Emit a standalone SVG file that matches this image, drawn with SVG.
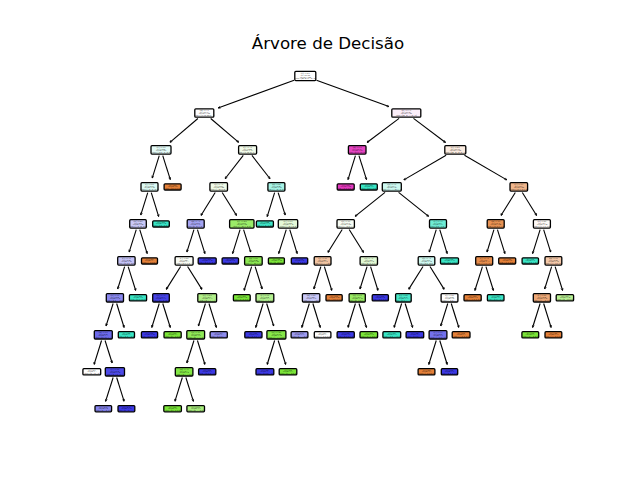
<svg xmlns="http://www.w3.org/2000/svg" width="640" height="480" viewBox="0 0 640 480">
<defs>
  <marker id="ah" viewBox="0 0 4 4" refX="3.8" refY="2" markerWidth="3" markerHeight="3" markerUnits="userSpaceOnUse" orient="auto">
    <path d="M0.8,0.6 L3.8,2 L0.8,3.4" fill="none" stroke="#000" stroke-width="0.9"/>
  </marker>
  <style>
    .bg { fill: #ffffff; }
    .title { font-family: "DejaVu Sans", sans-serif; font-size: 16.67px; fill: #000; text-anchor: middle; }
    .edges path { fill: none; stroke: #000; stroke-width: 1.1; marker-end: url(#ah); }
    .node rect { stroke: #000; stroke-width: 1.3; }
    .t { font-family: "DejaVu Sans", sans-serif; font-size: 1.5px; fill: #000; text-anchor: middle; }
  </style>
</defs>
<rect class="bg" x="0" y="0" width="640" height="480"/>
<text class="title" x="328" y="49.3">Árvore de Decisão</text>

<g id="edges" class="edges">
  <path d="M294.1 80.2 L218.1 108.0"/>
  <path d="M316.5 80.2 L388.9 106.6"/>
  <path d="M197.9 118.5 L169.9 142.3"/>
  <path d="M210.7 118.5 L238.7 142.3"/>
  <path d="M399.1 118.4 L367.0 142.5"/>
  <path d="M413.5 118.4 L445.5 142.5"/>
  <path d="M159.24 155.57 L152.24 178.08"/>
  <path d="M162.76 155.57 L170.32 179.58"/>
  <path d="M243.27 155.45 L225.06 178.75"/>
  <path d="M251.93 155.45 L270.04 178.75"/>
  <path d="M355.44 155.57 L347.98 179.58"/>
  <path d="M358.96 155.57 L366.52 179.58"/>
  <path d="M446.12 155.25 L403.83 179.89"/>
  <path d="M464.48 155.25 L506.77 179.89"/>
  <path d="M147.74 192.57 L140.74 215.08"/>
  <path d="M151.26 192.57 L158.72 216.58"/>
  <path d="M215.21 192.49 L200.94 215.51"/>
  <path d="M222.19 192.49 L236.56 215.51"/>
  <path d="M274.64 192.57 L267.18 216.58"/>
  <path d="M278.16 192.57 L285.26 215.08"/>
  <path d="M385.02 192.34 L355.06 216.4"/>
  <path d="M398.58 192.34 L428.64 216.4"/>
  <path d="M515.31 192.49 L500.94 215.51"/>
  <path d="M522.29 192.49 L536.66 215.51"/>
  <path d="M136.24 229.57 L129.14 252.08"/>
  <path d="M139.76 229.57 L147.22 253.58"/>
  <path d="M193.94 229.57 L186.84 252.08"/>
  <path d="M197.46 229.57 L204.92 253.58"/>
  <path d="M240.04 229.57 L232.58 253.58"/>
  <path d="M243.56 229.57 L250.66 252.08"/>
  <path d="M286.24 229.57 L278.68 253.58"/>
  <path d="M289.76 229.57 L297.22 253.58"/>
  <path d="M342.21 229.49 L327.84 252.51"/>
  <path d="M349.19 229.49 L363.56 252.51"/>
  <path d="M436.24 229.57 L429.24 252.08"/>
  <path d="M439.76 229.57 L447.22 253.58"/>
  <path d="M493.94 229.57 L486.94 252.08"/>
  <path d="M497.46 229.57 L504.92 253.58"/>
  <path d="M540.14 229.57 L532.58 253.58"/>
  <path d="M543.66 229.57 L550.66 252.08"/>
  <path d="M124.64 266.57 L117.64 288.98"/>
  <path d="M128.16 266.57 L135.72 290.48"/>
  <path d="M180.61 266.49 L166.24 289.41"/>
  <path d="M187.59 266.49 L201.96 289.41"/>
  <path d="M251.64 266.57 L244.08 290.48"/>
  <path d="M255.16 266.57 L262.16 288.98"/>
  <path d="M320.84 266.57 L313.84 288.98"/>
  <path d="M324.36 266.57 L331.82 290.48"/>
  <path d="M367.04 266.57 L359.94 288.98"/>
  <path d="M370.56 266.57 L378.02 290.48"/>
  <path d="M423.01 266.49 L408.64 289.41"/>
  <path d="M429.99 266.49 L444.26 289.41"/>
  <path d="M482.44 266.57 L474.88 290.48"/>
  <path d="M485.96 266.57 L493.42 290.48"/>
  <path d="M551.64 266.57 L544.64 288.98"/>
  <path d="M555.16 266.57 L562.62 290.48"/>
  <path d="M113.14 303.47 L106.04 325.98"/>
  <path d="M116.66 303.47 L124.12 327.48"/>
  <path d="M159.24 303.47 L151.78 327.48"/>
  <path d="M162.76 303.47 L170.32 327.48"/>
  <path d="M205.44 303.47 L198.44 325.98"/>
  <path d="M208.96 303.47 L216.42 327.48"/>
  <path d="M263.14 303.47 L255.68 327.48"/>
  <path d="M266.66 303.47 L273.66 325.98"/>
  <path d="M309.34 303.47 L301.78 327.48"/>
  <path d="M312.86 303.47 L320.32 327.48"/>
  <path d="M355.44 303.47 L347.98 327.48"/>
  <path d="M358.96 303.47 L366.52 327.48"/>
  <path d="M401.64 303.47 L394.08 327.48"/>
  <path d="M405.16 303.47 L412.62 327.48"/>
  <path d="M447.74 303.47 L440.74 325.98"/>
  <path d="M451.26 303.47 L458.82 327.48"/>
  <path d="M540.14 303.47 L532.58 327.48"/>
  <path d="M543.66 303.47 L551.12 327.48"/>
  <path d="M101.54 340.47 L94.08 364.48"/>
  <path d="M105.06 340.47 L112.16 362.98"/>
  <path d="M193.94 340.47 L186.84 362.98"/>
  <path d="M197.46 340.47 L204.92 364.48"/>
  <path d="M274.64 340.47 L267.18 364.48"/>
  <path d="M278.16 340.47 L285.72 364.48"/>
  <path d="M436.24 340.47 L428.78 364.48"/>
  <path d="M439.76 340.47 L447.22 364.48"/>
  <path d="M113.14 377.47 L105.58 401.38"/>
  <path d="M116.66 377.47 L124.12 401.38"/>
  <path d="M182.34 377.47 L174.88 401.38"/>
  <path d="M185.86 377.47 L193.42 401.38"/>
</g>

<!-- depth 0 -->
<g id="n0" class="node" transform="translate(305.3,76)"><rect x="-10.5" y="-4.6" width="21" height="9.2" rx="1" fill="#ffffff"/><text class="t"><tspan x="0" y="-2.1">x[3] &lt;= 0.5</tspan><tspan x="0" y="-0.3">gini = 0.799</tspan><tspan x="0" y="1.5">samples = 400</tspan><tspan x="0" y="3.3">value = [80, 84, 82, 78, 76]</tspan></text></g>
<!-- depth 1 -->
<g id="n1" class="node" transform="translate(204.3,113)"><rect x="-9.5" y="-4.2" width="19" height="8.4" rx="1" fill="#fefeff"/><text class="t"><tspan x="0" y="-2">x[0] &lt;= 1.5</tspan><tspan x="0" y="-0.3">gini = 0.742</tspan><tspan x="0" y="1.4">samples = 196</tspan><tspan x="0" y="3.1">value = [14, 58, 60, 62, 2]</tspan></text></g>
<g id="n2" class="node" transform="translate(406.3,113)"><rect x="-14.5" y="-4.2" width="29" height="8.4" rx="1" fill="#fbeefa"/><text class="t"><tspan x="0" y="-2">x[4] &lt;= 12.5</tspan><tspan x="0" y="-0.3">gini = 0.781</tspan><tspan x="0" y="1.4">samples = 204</tspan><tspan x="0" y="3.1">value = [66, 26, 22, 16, 74]</tspan></text></g>
<!-- depth 2 -->
<g id="n3" class="node" transform="translate(161,149.9)"><rect x="-10" y="-4.2" width="20" height="8.4" rx="1" fill="#e4fbf7"/><text class="t"><tspan x="0" y="-2">x[1] &lt;= 3.5</tspan><tspan x="0" y="-0.3">gini = 0.66</tspan><tspan x="0" y="1.4">samples = 64</tspan><tspan x="0" y="3.1">value = [10, 8, 26, 20, 0]</tspan></text></g>
<g id="n4" class="node" transform="translate(247.6,149.9)"><rect x="-9" y="-4.2" width="18" height="8.4" rx="1" fill="#f2fbea"/><text class="t"><tspan x="0" y="-2">x[2] &lt;= 2.5</tspan><tspan x="0" y="-0.3">gini = 0.68</tspan><tspan x="0" y="1.4">samples = 132</tspan><tspan x="0" y="3.1">value = [4, 50, 34, 42, 2]</tspan></text></g>
<g id="n5" class="node" transform="translate(357.2,149.9)"><rect x="-8.8" y="-4.2" width="17.6" height="8.4" rx="1" fill="#e645c3"/><text class="t"><tspan x="0" y="-2">x[0] &lt;= 4.5</tspan><tspan x="0" y="-0.3">gini = 0.142</tspan><tspan x="0" y="1.4">samples = 54</tspan><tspan x="0" y="3.1">value = [0, 0, 4, 0, 50]</tspan></text></g>
<g id="n6" class="node" transform="translate(455.3,149.9)"><rect x="-10.5" y="-4.2" width="21" height="8.4" rx="1" fill="#fbece1"/><text class="t"><tspan x="0" y="-2">x[1] &lt;= 0.5</tspan><tspan x="0" y="-0.3">gini = 0.754</tspan><tspan x="0" y="1.4">samples = 150</tspan><tspan x="0" y="3.1">value = [66, 26, 18, 16, 24]</tspan></text></g>
<!-- depth 3 -->
<g id="n7" class="node" transform="translate(149.5,186.9)"><rect x="-8.5" y="-4.2" width="17" height="8.4" rx="1" fill="#dcfaf4"/><text class="t"><tspan x="0" y="-2">x[2] &lt;= 6.5</tspan><tspan x="0" y="-0.3">gini = 0.591</tspan><tspan x="0" y="1.4">samples = 56</tspan><tspan x="0" y="3.1">value = [2, 8, 26, 20, 0]</tspan></text></g>
<g id="n8" class="node" transform="translate(172.6,186.9)"><rect x="-8.5" y="-3.1" width="17" height="6.2" rx="1" fill="#e58139"/><text class="t"><tspan x="0" y="-1.15">gini = 0.0</tspan><tspan x="0" y="0.55">samples = 8</tspan><tspan x="0" y="2.25">value = [8, 0, 0, 0, 0]</tspan></text></g>
<g id="n9" class="node" transform="translate(218.7,186.9)"><rect x="-8.8" y="-4.2" width="17.6" height="8.4" rx="1" fill="#f0fbe8"/><text class="t"><tspan x="0" y="-2">x[1] &lt;= 2.5</tspan><tspan x="0" y="-0.3">gini = 0.63</tspan><tspan x="0" y="1.4">samples = 88</tspan><tspan x="0" y="3.1">value = [2, 40, 8, 36, 2]</tspan></text></g>
<g id="n10" class="node" transform="translate(276.4,186.9)"><rect x="-8.5" y="-4.2" width="17" height="8.4" rx="1" fill="#a6f3e5"/><text class="t"><tspan x="0" y="-2">x[0] &lt;= 0.5</tspan><tspan x="0" y="-0.3">gini = 0.56</tspan><tspan x="0" y="1.4">samples = 44</tspan><tspan x="0" y="3.1">value = [2, 10, 26, 6, 0]</tspan></text></g>
<g id="n11" class="node" transform="translate(345.7,186.9)"><rect x="-8.5" y="-3.1" width="17" height="6.2" rx="1" fill="#e539c0"/><text class="t"><tspan x="0" y="-1.15">gini = 0.0</tspan><tspan x="0" y="0.55">samples = 50</tspan><tspan x="0" y="2.25">value = [0, 0, 0, 0, 50]</tspan></text></g>
<g id="n12" class="node" transform="translate(368.8,186.9)"><rect x="-8.5" y="-3.1" width="17" height="6.2" rx="1" fill="#39e5c5"/><text class="t"><tspan x="0" y="-1.15">gini = 0.0</tspan><tspan x="0" y="0.55">samples = 4</tspan><tspan x="0" y="2.25">value = [0, 0, 4, 0, 0]</tspan></text></g>
<g id="n13" class="node" transform="translate(391.8,186.9)"><rect x="-9.5" y="-4.2" width="19" height="8.4" rx="1" fill="#cdf8f0"/><text class="t"><tspan x="0" y="-2">x[3] &lt;= 1.5</tspan><tspan x="0" y="-0.3">gini = 0.72</tspan><tspan x="0" y="1.4">samples = 82</tspan><tspan x="0" y="3.1">value = [12, 22, 30, 12, 6]</tspan></text></g>
<g id="n14" class="node" transform="translate(518.8,186.9)"><rect x="-8.8" y="-4.2" width="17.6" height="8.4" rx="1" fill="#f0b68c"/><text class="t"><tspan x="0" y="-2">x[2] &lt;= 4.5</tspan><tspan x="0" y="-0.3">gini = 0.52</tspan><tspan x="0" y="1.4">samples = 68</tspan><tspan x="0" y="3.1">value = [44, 4, 8, 4, 8]</tspan></text></g>
<!-- depth 4 -->
<g id="n15" class="node" transform="translate(138,223.9)"><rect x="-8.3" y="-4.2" width="16.6" height="8.4" rx="1" fill="#cac9f8"/><text class="t"><tspan x="0" y="-2">x[4] &lt;= 8.5</tspan><tspan x="0" y="-0.3">gini = 0.6</tspan><tspan x="0" y="1.4">samples = 40</tspan><tspan x="0" y="3.1">value = [2, 8, 10, 20, 0]</tspan></text></g>
<g id="n16" class="node" transform="translate(161,223.9)"><rect x="-8.3" y="-3.1" width="16.6" height="6.2" rx="1" fill="#39e5c5"/><text class="t"><tspan x="0" y="-1.15">gini = 0.0</tspan><tspan x="0" y="0.55">samples = 16</tspan><tspan x="0" y="2.25">value = [0, 0, 16, 0, 0]</tspan></text></g>
<g id="n17" class="node" transform="translate(195.7,223.9)"><rect x="-8.5" y="-4.2" width="17" height="8.4" rx="1" fill="#a5a4f3"/><text class="t"><tspan x="0" y="-2">x[0] &lt;= 2.5</tspan><tspan x="0" y="-0.3">gini = 0.54</tspan><tspan x="0" y="1.4">samples = 42</tspan><tspan x="0" y="3.1">value = [0, 10, 4, 26, 2]</tspan></text></g>
<g id="n18" class="node" transform="translate(241.8,223.9)"><rect x="-12.2" y="-4.2" width="24.4" height="8.4" rx="1" fill="#9bec69"/><text class="t"><tspan x="0" y="-2">x[3] &lt;= 10.5</tspan><tspan x="0" y="-0.3">gini = 0.44</tspan><tspan x="0" y="1.4">samples = 46</tspan><tspan x="0" y="3.1">value = [2, 30, 4, 10, 0]</tspan></text></g>
<g id="n19" class="node" transform="translate(264.9,223.9)"><rect x="-8.5" y="-3.1" width="17" height="6.2" rx="1" fill="#3fe6c7"/><text class="t"><tspan x="0" y="-1.15">gini = 0.08</tspan><tspan x="0" y="0.55">samples = 24</tspan><tspan x="0" y="2.25">value = [1, 0, 23, 0, 0]</tspan></text></g>
<g id="n20" class="node" transform="translate(288,223.9)"><rect x="-9.7" y="-4.2" width="19.4" height="8.4" rx="1" fill="#e5f9d8"/><text class="t"><tspan x="0" y="-2">x[1] &lt;= 5.5</tspan><tspan x="0" y="-0.3">gini = 0.64</tspan><tspan x="0" y="1.4">samples = 20</tspan><tspan x="0" y="3.1">value = [1, 10, 3, 6, 0]</tspan></text></g>
<g id="n21" class="node" transform="translate(345.7,223.9)"><rect x="-8.7" y="-4.2" width="17.4" height="8.4" rx="1" fill="#f8fdf4"/><text class="t"><tspan x="0" y="-2">x[4] &lt;= 3.5</tspan><tspan x="0" y="-0.3">gini = 0.74</tspan><tspan x="0" y="1.4">samples = 50</tspan><tspan x="0" y="3.1">value = [12, 16, 6, 12, 4]</tspan></text></g>
<g id="n22" class="node" transform="translate(438,223.9)"><rect x="-8.5" y="-4.2" width="17" height="8.4" rx="1" fill="#6eecd5"/><text class="t"><tspan x="0" y="-2">x[2] &lt;= 1.5</tspan><tspan x="0" y="-0.3">gini = 0.42</tspan><tspan x="0" y="1.4">samples = 32</tspan><tspan x="0" y="3.1">value = [0, 6, 24, 0, 2]</tspan></text></g>
<g id="n23" class="node" transform="translate(495.7,223.9)"><rect x="-8.5" y="-4.2" width="17" height="8.4" rx="1" fill="#e89253"/><text class="t"><tspan x="0" y="-2">x[0] &lt;= 3.5</tspan><tspan x="0" y="-0.3">gini = 0.24</tspan><tspan x="0" y="1.4">samples = 38</tspan><tspan x="0" y="3.1">value = [33, 0, 4, 1, 0]</tspan></text></g>
<g id="n24" class="node" transform="translate(541.9,223.9)"><rect x="-8.5" y="-4.2" width="17" height="8.4" rx="1" fill="#fefaf7"/><text class="t"><tspan x="0" y="-2">x[3] &lt;= 6.5</tspan><tspan x="0" y="-0.3">gini = 0.7</tspan><tspan x="0" y="1.4">samples = 30</tspan><tspan x="0" y="3.1">value = [11, 4, 4, 3, 8]</tspan></text></g>
<!-- depth 5 -->
<g id="n25" class="node" transform="translate(126.4,260.9)"><rect x="-8.7" y="-4.2" width="17.4" height="8.4" rx="1" fill="#c4c3f7"/><text class="t"><tspan x="0" y="-2">x[1] &lt;= 7.5</tspan><tspan x="0" y="-0.3">gini = 0.58</tspan><tspan x="0" y="1.4">samples = 34</tspan><tspan x="0" y="3.1">value = [0, 8, 8, 18, 0]</tspan></text></g>
<g id="n26" class="node" transform="translate(149.5,260.9)"><rect x="-8" y="-3.1" width="16" height="6.2" rx="1" fill="#e58139"/><text class="t"><tspan x="0" y="-1.15">gini = 0.0</tspan><tspan x="0" y="0.55">samples = 2</tspan><tspan x="0" y="2.25">value = [2, 0, 0, 0, 0]</tspan></text></g>
<g id="n27" class="node" transform="translate(184.1,260.9)"><rect x="-9" y="-4.2" width="18" height="8.4" rx="1" fill="#fafcf6"/><text class="t"><tspan x="0" y="-2">x[2] &lt;= 0.5</tspan><tspan x="0" y="-0.3">gini = 0.62</tspan><tspan x="0" y="1.4">samples = 22</tspan><tspan x="0" y="3.1">value = [0, 9, 4, 8, 1]</tspan></text></g>
<g id="n28" class="node" transform="translate(207.2,260.9)"><rect x="-9" y="-3.1" width="18" height="6.2" rx="1" fill="#3c39e5"/><text class="t"><tspan x="0" y="-1.15">gini = 0.0</tspan><tspan x="0" y="0.55">samples = 20</tspan><tspan x="0" y="2.25">value = [0, 0, 0, 20, 0]</tspan></text></g>
<g id="n29" class="node" transform="translate(230.3,260.9)"><rect x="-8.2" y="-3.1" width="16.4" height="6.2" rx="1" fill="#3c39e5"/><text class="t"><tspan x="0" y="-1.15">gini = 0.0</tspan><tspan x="0" y="0.55">samples = 6</tspan><tspan x="0" y="2.25">value = [0, 0, 0, 6, 0]</tspan></text></g>
<g id="n30" class="node" transform="translate(253.4,260.9)"><rect x="-8.8" y="-4.2" width="17.6" height="8.4" rx="1" fill="#8ce853"/><text class="t"><tspan x="0" y="-2">x[0] &lt;= 6.5</tspan><tspan x="0" y="-0.3">gini = 0.36</tspan><tspan x="0" y="1.4">samples = 40</tspan><tspan x="0" y="3.1">value = [2, 30, 4, 4, 0]</tspan></text></g>
<g id="n31" class="node" transform="translate(276.4,260.9)"><rect x="-8" y="-3.1" width="16" height="6.2" rx="1" fill="#7be539"/><text class="t"><tspan x="0" y="-1.15">gini = 0.0</tspan><tspan x="0" y="0.55">samples = 10</tspan><tspan x="0" y="2.25">value = [0, 10, 0, 0, 0]</tspan></text></g>
<g id="n32" class="node" transform="translate(299.5,260.9)"><rect x="-8.2" y="-3.1" width="16.4" height="6.2" rx="1" fill="#3c39e5"/><text class="t"><tspan x="0" y="-1.15">gini = 0.0</tspan><tspan x="0" y="0.55">samples = 6</tspan><tspan x="0" y="2.25">value = [0, 0, 0, 6, 0]</tspan></text></g>
<g id="n33" class="node" transform="translate(322.6,260.9)"><rect x="-8.4" y="-4.2" width="16.8" height="8.4" rx="1" fill="#f3c5a3"/><text class="t"><tspan x="0" y="-2">x[1] &lt;= 4.5</tspan><tspan x="0" y="-0.3">gini = 0.62</tspan><tspan x="0" y="1.4">samples = 24</tspan><tspan x="0" y="3.1">value = [12, 2, 2, 8, 0]</tspan></text></g>
<g id="n34" class="node" transform="translate(368.8,260.9)"><rect x="-8.7" y="-4.2" width="17.4" height="8.4" rx="1" fill="#e2f9d4"/><text class="t"><tspan x="0" y="-2">x[3] &lt;= 2.5</tspan><tspan x="0" y="-0.3">gini = 0.6</tspan><tspan x="0" y="1.4">samples = 26</tspan><tspan x="0" y="3.1">value = [0, 14, 4, 4, 4]</tspan></text></g>
<g id="n35" class="node" transform="translate(426.5,260.9)"><rect x="-8.3" y="-4.2" width="16.6" height="8.4" rx="1" fill="#d0f9f1"/><text class="t"><tspan x="0" y="-2">x[4] &lt;= 2.5</tspan><tspan x="0" y="-0.3">gini = 0.62</tspan><tspan x="0" y="1.4">samples = 18</tspan><tspan x="0" y="3.1">value = [0, 6, 10, 0, 2]</tspan></text></g>
<g id="n36" class="node" transform="translate(449.5,260.9)"><rect x="-9" y="-3.1" width="18" height="6.2" rx="1" fill="#39e5c5"/><text class="t"><tspan x="0" y="-1.15">gini = 0.0</tspan><tspan x="0" y="0.55">samples = 14</tspan><tspan x="0" y="2.25">value = [0, 0, 14, 0, 0]</tspan></text></g>
<g id="n37" class="node" transform="translate(484.2,260.9)"><rect x="-8.5" y="-4.2" width="17" height="8.4" rx="1" fill="#e88e4d"/><text class="t"><tspan x="0" y="-2">x[2] &lt;= 7.5</tspan><tspan x="0" y="-0.3">gini = 0.2</tspan><tspan x="0" y="1.4">samples = 27</tspan><tspan x="0" y="3.1">value = [24, 0, 3, 0, 0]</tspan></text></g>
<g id="n38" class="node" transform="translate(507.2,260.9)"><rect x="-8.5" y="-3.1" width="17" height="6.2" rx="1" fill="#e58139"/><text class="t"><tspan x="0" y="-1.15">gini = 0.0</tspan><tspan x="0" y="0.55">samples = 9</tspan><tspan x="0" y="2.25">value = [9, 0, 0, 0, 0]</tspan></text></g>
<g id="n39" class="node" transform="translate(530.3,260.9)"><rect x="-8.2" y="-3.1" width="16.4" height="6.2" rx="1" fill="#39e5c5"/><text class="t"><tspan x="0" y="-1.15">gini = 0.0</tspan><tspan x="0" y="0.55">samples = 4</tspan><tspan x="0" y="2.25">value = [0, 0, 4, 0, 0]</tspan></text></g>
<g id="n40" class="node" transform="translate(553.4,260.9)"><rect x="-8.4" y="-4.2" width="16.8" height="8.4" rx="1" fill="#f4c9aa"/><text class="t"><tspan x="0" y="-2">x[0] &lt;= 5.5</tspan><tspan x="0" y="-0.3">gini = 0.58</tspan><tspan x="0" y="1.4">samples = 26</tspan><tspan x="0" y="3.1">value = [11, 4, 0, 3, 8]</tspan></text></g>
<!-- depth 6 -->
<g id="n41" class="node" transform="translate(114.9,297.8)"><rect x="-8.6" y="-4.2" width="17.2" height="8.4" rx="1" fill="#8a88ef"/><text class="t"><tspan x="0" y="-2">x[3] &lt;= 4.5</tspan><tspan x="0" y="-0.3">gini = 0.46</tspan><tspan x="0" y="1.4">samples = 26</tspan><tspan x="0" y="3.1">value = [0, 6, 2, 18, 0]</tspan></text></g>
<g id="n42" class="node" transform="translate(138,297.8)"><rect x="-8.6" y="-3.1" width="17.2" height="6.2" rx="1" fill="#39e5c5"/><text class="t"><tspan x="0" y="-1.15">gini = 0.0</tspan><tspan x="0" y="0.55">samples = 6</tspan><tspan x="0" y="2.25">value = [0, 0, 6, 0, 0]</tspan></text></g>
<g id="n43" class="node" transform="translate(161,297.8)"><rect x="-8.3" y="-4.2" width="16.6" height="8.4" rx="1" fill="#4643e6"/><text class="t"><tspan x="0" y="-2">x[4] &lt;= 1.5</tspan><tspan x="0" y="-0.3">gini = 0.17</tspan><tspan x="0" y="1.4">samples = 11</tspan><tspan x="0" y="3.1">value = [0, 1, 0, 10, 0]</tspan></text></g>
<g id="n44" class="node" transform="translate(207.2,297.8)"><rect x="-9.4" y="-4.2" width="18.8" height="8.4" rx="1" fill="#b0ee88"/><text class="t"><tspan x="0" y="-2">x[1] &lt;= 6.5</tspan><tspan x="0" y="-0.3">gini = 0.52</tspan><tspan x="0" y="1.4">samples = 11</tspan><tspan x="0" y="3.1">value = [0, 7, 1, 2, 1]</tspan></text></g>
<g id="n45" class="node" transform="translate(241.8,297.8)"><rect x="-8.4" y="-3.1" width="16.8" height="6.2" rx="1" fill="#7be539"/><text class="t"><tspan x="0" y="-1.15">gini = 0.0</tspan><tspan x="0" y="0.55">samples = 18</tspan><tspan x="0" y="2.25">value = [0, 18, 0, 0, 0]</tspan></text></g>
<g id="n46" class="node" transform="translate(264.9,297.8)"><rect x="-8.9" y="-4.2" width="17.8" height="8.4" rx="1" fill="#b4f090"/><text class="t"><tspan x="0" y="-2">x[2] &lt;= 3.5</tspan><tspan x="0" y="-0.3">gini = 0.56</tspan><tspan x="0" y="1.4">samples = 22</tspan><tspan x="0" y="3.1">value = [2, 12, 4, 4, 0]</tspan></text></g>
<g id="n47" class="node" transform="translate(311.1,297.8)"><rect x="-8.7" y="-4.2" width="17.4" height="8.4" rx="1" fill="#c9c8f8"/><text class="t"><tspan x="0" y="-2">x[0] &lt;= 8.5</tspan><tspan x="0" y="-0.3">gini = 0.61</tspan><tspan x="0" y="1.4">samples = 14</tspan><tspan x="0" y="3.1">value = [2, 2, 2, 8, 0]</tspan></text></g>
<g id="n48" class="node" transform="translate(334.1,297.8)"><rect x="-8.1" y="-3.1" width="16.2" height="6.2" rx="1" fill="#e58139"/><text class="t"><tspan x="0" y="-1.15">gini = 0.0</tspan><tspan x="0" y="0.55">samples = 10</tspan><tspan x="0" y="2.25">value = [10, 0, 0, 0, 0]</tspan></text></g>
<g id="n49" class="node" transform="translate(357.2,297.8)"><rect x="-8.1" y="-4.2" width="16.2" height="8.4" rx="1" fill="#98ea64"/><text class="t"><tspan x="0" y="-2">x[4] &lt;= 5.5</tspan><tspan x="0" y="-0.3">gini = 0.42</tspan><tspan x="0" y="1.4">samples = 20</tspan><tspan x="0" y="3.1">value = [0, 14, 0, 4, 2]</tspan></text></g>
<g id="n50" class="node" transform="translate(380.3,297.8)"><rect x="-8.1" y="-3.1" width="16.2" height="6.2" rx="1" fill="#3c39e5"/><text class="t"><tspan x="0" y="-1.15">gini = 0.0</tspan><tspan x="0" y="0.55">samples = 6</tspan><tspan x="0" y="2.25">value = [0, 0, 0, 6, 0]</tspan></text></g>
<g id="n51" class="node" transform="translate(403.4,297.8)"><rect x="-7.8" y="-4.2" width="15.6" height="8.4" rx="1" fill="#47e7c9"/><text class="t"><tspan x="0" y="-2">x[3] &lt;= 8.5</tspan><tspan x="0" y="-0.3">gini = 0.15</tspan><tspan x="0" y="1.4">samples = 12</tspan><tspan x="0" y="3.1">value = [0, 0, 11, 1, 0]</tspan></text></g>
<g id="n52" class="node" transform="translate(449.5,297.8)"><rect x="-8.4" y="-4.2" width="16.8" height="8.4" rx="1" fill="#ffffff"/><text class="t"><tspan x="0" y="-2">x[1] &lt;= 8.5</tspan><tspan x="0" y="-0.3">gini = 0.66</tspan><tspan x="0" y="1.4">samples = 6</tspan><tspan x="0" y="3.1">value = [2, 0, 0, 2, 2]</tspan></text></g>
<g id="n53" class="node" transform="translate(472.6,297.8)"><rect x="-8.6" y="-3.1" width="17.2" height="6.2" rx="1" fill="#e58139"/><text class="t"><tspan x="0" y="-1.15">gini = 0.0</tspan><tspan x="0" y="0.55">samples = 24</tspan><tspan x="0" y="2.25">value = [24, 0, 0, 0, 0]</tspan></text></g>
<g id="n54" class="node" transform="translate(495.7,297.8)"><rect x="-8.3" y="-3.1" width="16.6" height="6.2" rx="1" fill="#39e5c5"/><text class="t"><tspan x="0" y="-1.15">gini = 0.0</tspan><tspan x="0" y="0.55">samples = 3</tspan><tspan x="0" y="2.25">value = [0, 0, 3, 0, 0]</tspan></text></g>
<g id="n55" class="node" transform="translate(541.9,297.8)"><rect x="-8.6" y="-4.2" width="17.2" height="8.4" rx="1" fill="#eda877"/><text class="t"><tspan x="0" y="-2">x[2] &lt;= 9.5</tspan><tspan x="0" y="-0.3">gini = 0.48</tspan><tspan x="0" y="1.4">samples = 16</tspan><tspan x="0" y="3.1">value = [11, 2, 0, 3, 0]</tspan></text></g>
<g id="n56" class="node" transform="translate(564.9,297.8)"><rect x="-8.7" y="-3.1" width="17.4" height="6.2" rx="1" fill="#b8f094"/><text class="t"><tspan x="0" y="-1.15">gini = 0.5</tspan><tspan x="0" y="0.55">samples = 10</tspan><tspan x="0" y="2.25">value = [0, 2, 0, 0, 8]</tspan></text></g>
<!-- depth 7 -->
<g id="n57" class="node" transform="translate(103.3,334.8)"><rect x="-9" y="-4.2" width="18" height="8.4" rx="1" fill="#6c6aeb"/><text class="t"><tspan x="0" y="-2">x[0] &lt;= 9.5</tspan><tspan x="0" y="-0.3">gini = 0.38</tspan><tspan x="0" y="1.4">samples = 22</tspan><tspan x="0" y="3.1">value = [0, 4, 0, 17, 1]</tspan></text></g>
<g id="n58" class="node" transform="translate(126.4,334.8)"><rect x="-8.1" y="-3.1" width="16.2" height="6.2" rx="1" fill="#39e5c5"/><text class="t"><tspan x="0" y="-1.15">gini = 0.0</tspan><tspan x="0" y="0.55">samples = 2</tspan><tspan x="0" y="2.25">value = [0, 0, 2, 0, 0]</tspan></text></g>
<g id="n59" class="node" transform="translate(149.5,334.8)"><rect x="-8.1" y="-3.1" width="16.2" height="6.2" rx="1" fill="#3c39e5"/><text class="t"><tspan x="0" y="-1.15">gini = 0.0</tspan><tspan x="0" y="0.55">samples = 10</tspan><tspan x="0" y="2.25">value = [0, 0, 0, 10, 0]</tspan></text></g>
<g id="n60" class="node" transform="translate(172.6,334.8)"><rect x="-8.6" y="-3.1" width="17.2" height="6.2" rx="1" fill="#7be539"/><text class="t"><tspan x="0" y="-1.15">gini = 0.0</tspan><tspan x="0" y="0.55">samples = 1</tspan><tspan x="0" y="2.25">value = [0, 1, 0, 0, 0]</tspan></text></g>
<g id="n61" class="node" transform="translate(195.7,334.8)"><rect x="-8.9" y="-4.2" width="17.8" height="8.4" rx="1" fill="#8fe957"/><text class="t"><tspan x="0" y="-2">x[3] &lt;= 3.5</tspan><tspan x="0" y="-0.3">gini = 0.35</tspan><tspan x="0" y="1.4">samples = 9</tspan><tspan x="0" y="3.1">value = [0, 7, 1, 1, 0]</tspan></text></g>
<g id="n62" class="node" transform="translate(218.7,334.8)"><rect x="-8.6" y="-3.1" width="17.2" height="6.2" rx="1" fill="#908eef"/><text class="t"><tspan x="0" y="-1.15">gini = 0.5</tspan><tspan x="0" y="0.55">samples = 2</tspan><tspan x="0" y="2.25">value = [0, 0, 0, 1, 1]</tspan></text></g>
<g id="n63" class="node" transform="translate(253.4,334.8)"><rect x="-8.6" y="-3.1" width="17.2" height="6.2" rx="1" fill="#3c39e5"/><text class="t"><tspan x="0" y="-1.15">gini = 0.0</tspan><tspan x="0" y="0.55">samples = 4</tspan><tspan x="0" y="2.25">value = [0, 0, 0, 4, 0]</tspan></text></g>
<g id="n64" class="node" transform="translate(276.4,334.8)"><rect x="-9.5" y="-4.2" width="19" height="8.4" rx="1" fill="#86e749"/><text class="t"><tspan x="0" y="-2">x[4] &lt;= 10.5</tspan><tspan x="0" y="-0.3">gini = 0.28</tspan><tspan x="0" y="1.4">samples = 18</tspan><tspan x="0" y="3.1">value = [2, 12, 4, 0, 0]</tspan></text></g>
<g id="n65" class="node" transform="translate(299.5,334.8)"><rect x="-8.4" y="-3.1" width="16.8" height="6.2" rx="1" fill="#9e9cf2"/><text class="t"><tspan x="0" y="-1.15">gini = 0.44</tspan><tspan x="0" y="0.55">samples = 12</tspan><tspan x="0" y="2.25">value = [0, 2, 2, 8, 0]</tspan></text></g>
<g id="n66" class="node" transform="translate(322.6,334.8)"><rect x="-8.3" y="-3.1" width="16.6" height="6.2" rx="1" fill="#ffffff"/><text class="t"><tspan x="0" y="-1.15">gini = 0.5</tspan><tspan x="0" y="0.55">samples = 2</tspan><tspan x="0" y="2.25">value = [2, 0, 0, 0, 0]</tspan></text></g>
<g id="n67" class="node" transform="translate(345.7,334.8)"><rect x="-8.6" y="-3.1" width="17.2" height="6.2" rx="1" fill="#3c39e5"/><text class="t"><tspan x="0" y="-1.15">gini = 0.0</tspan><tspan x="0" y="0.55">samples = 4</tspan><tspan x="0" y="2.25">value = [0, 0, 0, 4, 0]</tspan></text></g>
<g id="n68" class="node" transform="translate(368.8,334.8)"><rect x="-8.8" y="-3.1" width="17.6" height="6.2" rx="1" fill="#7be539"/><text class="t"><tspan x="0" y="-1.15">gini = 0.0</tspan><tspan x="0" y="0.55">samples = 14</tspan><tspan x="0" y="2.25">value = [0, 14, 0, 0, 0]</tspan></text></g>
<g id="n69" class="node" transform="translate(391.8,334.8)"><rect x="-8.9" y="-3.1" width="17.8" height="6.2" rx="1" fill="#39e5c5"/><text class="t"><tspan x="0" y="-1.15">gini = 0.0</tspan><tspan x="0" y="0.55">samples = 11</tspan><tspan x="0" y="2.25">value = [0, 0, 11, 0, 0]</tspan></text></g>
<g id="n70" class="node" transform="translate(414.9,334.8)"><rect x="-8.8" y="-3.1" width="17.6" height="6.2" rx="1" fill="#3c39e5"/><text class="t"><tspan x="0" y="-1.15">gini = 0.0</tspan><tspan x="0" y="0.55">samples = 1</tspan><tspan x="0" y="2.25">value = [0, 0, 0, 1, 0]</tspan></text></g>
<g id="n71" class="node" transform="translate(438,334.8)"><rect x="-8.9" y="-4.2" width="17.8" height="8.4" rx="1" fill="#7371ec"/><text class="t"><tspan x="0" y="-2">x[2] &lt;= 5.5</tspan><tspan x="0" y="-0.3">gini = 0.44</tspan><tspan x="0" y="1.4">samples = 4</tspan><tspan x="0" y="3.1">value = [1, 0, 0, 3, 0]</tspan></text></g>
<g id="n72" class="node" transform="translate(461.1,334.8)"><rect x="-8.9" y="-3.1" width="17.8" height="6.2" rx="1" fill="#e58139"/><text class="t"><tspan x="0" y="-1.15">gini = 0.0</tspan><tspan x="0" y="0.55">samples = 2</tspan><tspan x="0" y="2.25">value = [2, 0, 0, 0, 0]</tspan></text></g>
<g id="n73" class="node" transform="translate(530.3,334.8)"><rect x="-8.4" y="-3.1" width="16.8" height="6.2" rx="1" fill="#7be539"/><text class="t"><tspan x="0" y="-1.15">gini = 0.0</tspan><tspan x="0" y="0.55">samples = 2</tspan><tspan x="0" y="2.25">value = [0, 2, 0, 0, 0]</tspan></text></g>
<g id="n74" class="node" transform="translate(553.4,334.8)"><rect x="-8.4" y="-3.1" width="16.8" height="6.2" rx="1" fill="#e58139"/><text class="t"><tspan x="0" y="-1.15">gini = 0.0</tspan><tspan x="0" y="0.55">samples = 11</tspan><tspan x="0" y="2.25">value = [11, 0, 0, 0, 0]</tspan></text></g>
<!-- depth 8 -->
<g id="n75" class="node" transform="translate(91.8,371.8)"><rect x="-8.9" y="-3.1" width="17.8" height="6.2" rx="1" fill="#ffffff"/><text class="t"><tspan x="0" y="-1.15">gini = 0.5</tspan><tspan x="0" y="0.55">samples = 2</tspan><tspan x="0" y="2.25">value = [0, 1, 0, 1, 0]</tspan></text></g>
<g id="n76" class="node" transform="translate(114.9,371.8)"><rect x="-9.6" y="-4.2" width="19.2" height="8.4" rx="1" fill="#4d4ae7"/><text class="t"><tspan x="0" y="-2">x[1] &lt;= 9.5</tspan><tspan x="0" y="-0.3">gini = 0.28</tspan><tspan x="0" y="1.4">samples = 20</tspan><tspan x="0" y="3.1">value = [0, 3, 0, 16, 1]</tspan></text></g>
<g id="n77" class="node" transform="translate(184.1,371.8)"><rect x="-8.8" y="-4.2" width="17.6" height="8.4" rx="1" fill="#83e745"/><text class="t"><tspan x="0" y="-2">x[0] &lt;= 7.5</tspan><tspan x="0" y="-0.3">gini = 0.22</tspan><tspan x="0" y="1.4">samples = 8</tspan><tspan x="0" y="3.1">value = [0, 7, 1, 0, 0]</tspan></text></g>
<g id="n78" class="node" transform="translate(207.2,371.8)"><rect x="-8.6" y="-3.1" width="17.2" height="6.2" rx="1" fill="#3c39e5"/><text class="t"><tspan x="0" y="-1.15">gini = 0.0</tspan><tspan x="0" y="0.55">samples = 1</tspan><tspan x="0" y="2.25">value = [0, 0, 0, 1, 0]</tspan></text></g>
<g id="n79" class="node" transform="translate(264.9,371.8)"><rect x="-8.9" y="-3.1" width="17.8" height="6.2" rx="1" fill="#3c39e5"/><text class="t"><tspan x="0" y="-1.15">gini = 0.0</tspan><tspan x="0" y="0.55">samples = 2</tspan><tspan x="0" y="2.25">value = [0, 0, 0, 2, 0]</tspan></text></g>
<g id="n80" class="node" transform="translate(288,371.8)"><rect x="-8.8" y="-3.1" width="17.6" height="6.2" rx="1" fill="#7be539"/><text class="t"><tspan x="0" y="-1.15">gini = 0.0</tspan><tspan x="0" y="0.55">samples = 12</tspan><tspan x="0" y="2.25">value = [0, 12, 0, 0, 0]</tspan></text></g>
<g id="n81" class="node" transform="translate(426.5,371.8)"><rect x="-8.4" y="-3.1" width="16.8" height="6.2" rx="1" fill="#e58139"/><text class="t"><tspan x="0" y="-1.15">gini = 0.0</tspan><tspan x="0" y="0.55">samples = 1</tspan><tspan x="0" y="2.25">value = [1, 0, 0, 0, 0]</tspan></text></g>
<g id="n82" class="node" transform="translate(449.5,371.8)"><rect x="-8.2" y="-3.1" width="16.4" height="6.2" rx="1" fill="#3c39e5"/><text class="t"><tspan x="0" y="-1.15">gini = 0.0</tspan><tspan x="0" y="0.55">samples = 3</tspan><tspan x="0" y="2.25">value = [0, 0, 0, 3, 0]</tspan></text></g>
<!-- depth 9 -->
<g id="n83" class="node" transform="translate(103.3,408.7)"><rect x="-8.3" y="-3.1" width="16.6" height="6.2" rx="1" fill="#8785ee"/><text class="t"><tspan x="0" y="-1.15">gini = 0.44</tspan><tspan x="0" y="0.55">samples = 6</tspan><tspan x="0" y="2.25">value = [0, 2, 0, 4, 0]</tspan></text></g>
<g id="n84" class="node" transform="translate(126.4,408.7)"><rect x="-8.4" y="-3.1" width="16.8" height="6.2" rx="1" fill="#3c39e5"/><text class="t"><tspan x="0" y="-1.15">gini = 0.13</tspan><tspan x="0" y="0.55">samples = 14</tspan><tspan x="0" y="2.25">value = [0, 1, 0, 12, 1]</tspan></text></g>
<g id="n85" class="node" transform="translate(172.6,408.7)"><rect x="-8.8" y="-3.1" width="17.6" height="6.2" rx="1" fill="#7be539"/><text class="t"><tspan x="0" y="-1.15">gini = 0.0</tspan><tspan x="0" y="0.55">samples = 5</tspan><tspan x="0" y="2.25">value = [0, 5, 0, 0, 0]</tspan></text></g>
<g id="n86" class="node" transform="translate(195.7,408.7)"><rect x="-8.8" y="-3.1" width="17.6" height="6.2" rx="1" fill="#a8ed7c"/><text class="t"><tspan x="0" y="-1.15">gini = 0.44</tspan><tspan x="0" y="0.55">samples = 3</tspan><tspan x="0" y="2.25">value = [0, 2, 1, 0, 0]</tspan></text></g>
</svg>
